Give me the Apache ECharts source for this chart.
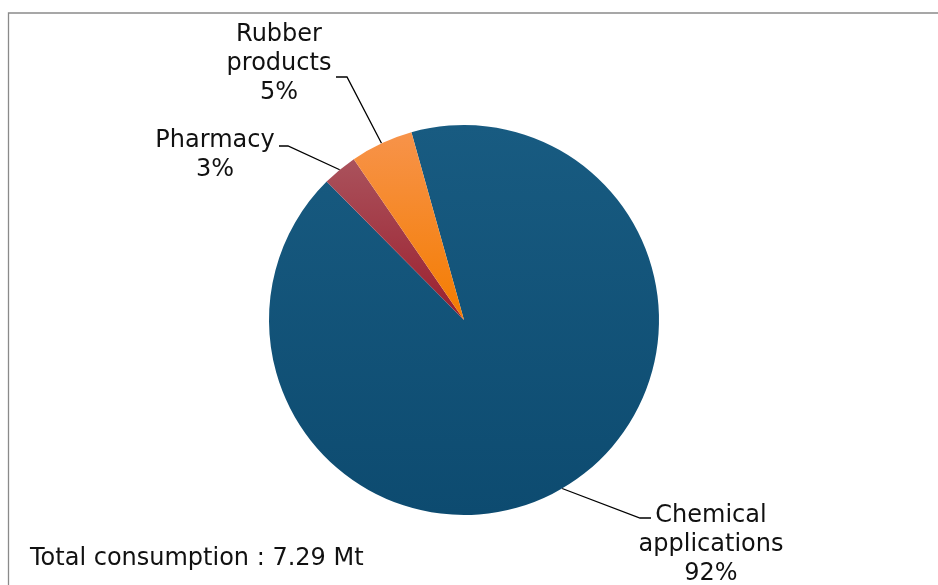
<!DOCTYPE html>
<html>
<head>
<meta charset="utf-8">
<script src="https://cdn.jsdelivr.net/npm/echarts@6/dist/echarts.min.js"></script>
<style>
html,body{margin:0;padding:0;background:#fff;}
#chart{width:938px;height:585px;}
</style>
</head>
<body>
<div id="chart"></div>
<script>
// Data (Mt)
const categories = ['Chemical applications', 'Pharmacy', 'Rubber products'];
const values = [6.70, 0.21, 0.38];
const totalLabel = 'Total consumption : 7.29 Mt';

// Styles
const sliceColors = [
  ['#185b81', '#0d4b70'],
  ['#aa525c', '#9b1f2e'],
  ['#f7934a', '#f47c00']
];
const labelStyle = [
  { x: 711, y: 545, mid: [640, 518], end: [651, 518] },
  { x: 215, y: 155, mid: [288, 146], end: [279, 146] },
  { x: 279, y: 64, mid: [347, 77], end: [336, 77] }
];

const chart = echarts.init(document.getElementById('chart'), null, { renderer: 'canvas' });
const total = values.reduce((a, b) => a + b, 0);

chart.setOption({
  animation: false,
  backgroundColor: '#fff',
  graphic: [
    {
      type: 'rect',
      shape: { x: 8.5, y: 13, width: 1000, height: 1000 },
      style: { fill: 'none', stroke: '#8a8a8a', lineWidth: 1.3 },
      silent: true
    },
    {
      type: 'text',
      left: 30,
      top: 547,
      style: { text: totalLabel, font: '24px "DejaVu Sans"', fill: '#111' },
      silent: true
    }
  ],
  series: [{
    type: 'pie',
    center: [464, 320],
    radius: 195,
    startAngle: 105.65,
    clockwise: true,
    avoidLabelOverlap: false,
    data: categories.map((c, i) => ({
      name: c,
      value: values[i],
      itemStyle: {
        color: new echarts.graphic.LinearGradient(0, 0, 0, 1, [
          { offset: 0, color: sliceColors[i][0] },
          { offset: 1, color: sliceColors[i][1] }
        ])
      }
    })),
    label: {
      show: true,
      position: 'outside',
      overflow: 'none',
      fontFamily: 'DejaVu Sans',
      fontSize: 24,
      lineHeight: 29,
      color: '#111',
      align: 'center',
      formatter: p => p.name.replace(' ', '\n') + '\n' + Math.round(p.value / total * 100) + '%'
    },
    labelLine: {
      show: true,
      length: 20,
      length2: 10,
      lineStyle: { color: '#000', width: 1.3 }
    },
    labelLayout: function (params) {
      const s = labelStyle[params.dataIndex];
      const pts = params.labelLinePoints;
      const start = pts && pts[0] ? pts[0] : s.mid;
      return {
        x: s.x,
        y: s.y,
        align: 'center',
        verticalAlign: 'middle',
        labelLinePoints: [start, s.mid, s.end]
      };
    },
    emphasis: { disabled: true }
  }]
});
</script>
</body>
</html>
